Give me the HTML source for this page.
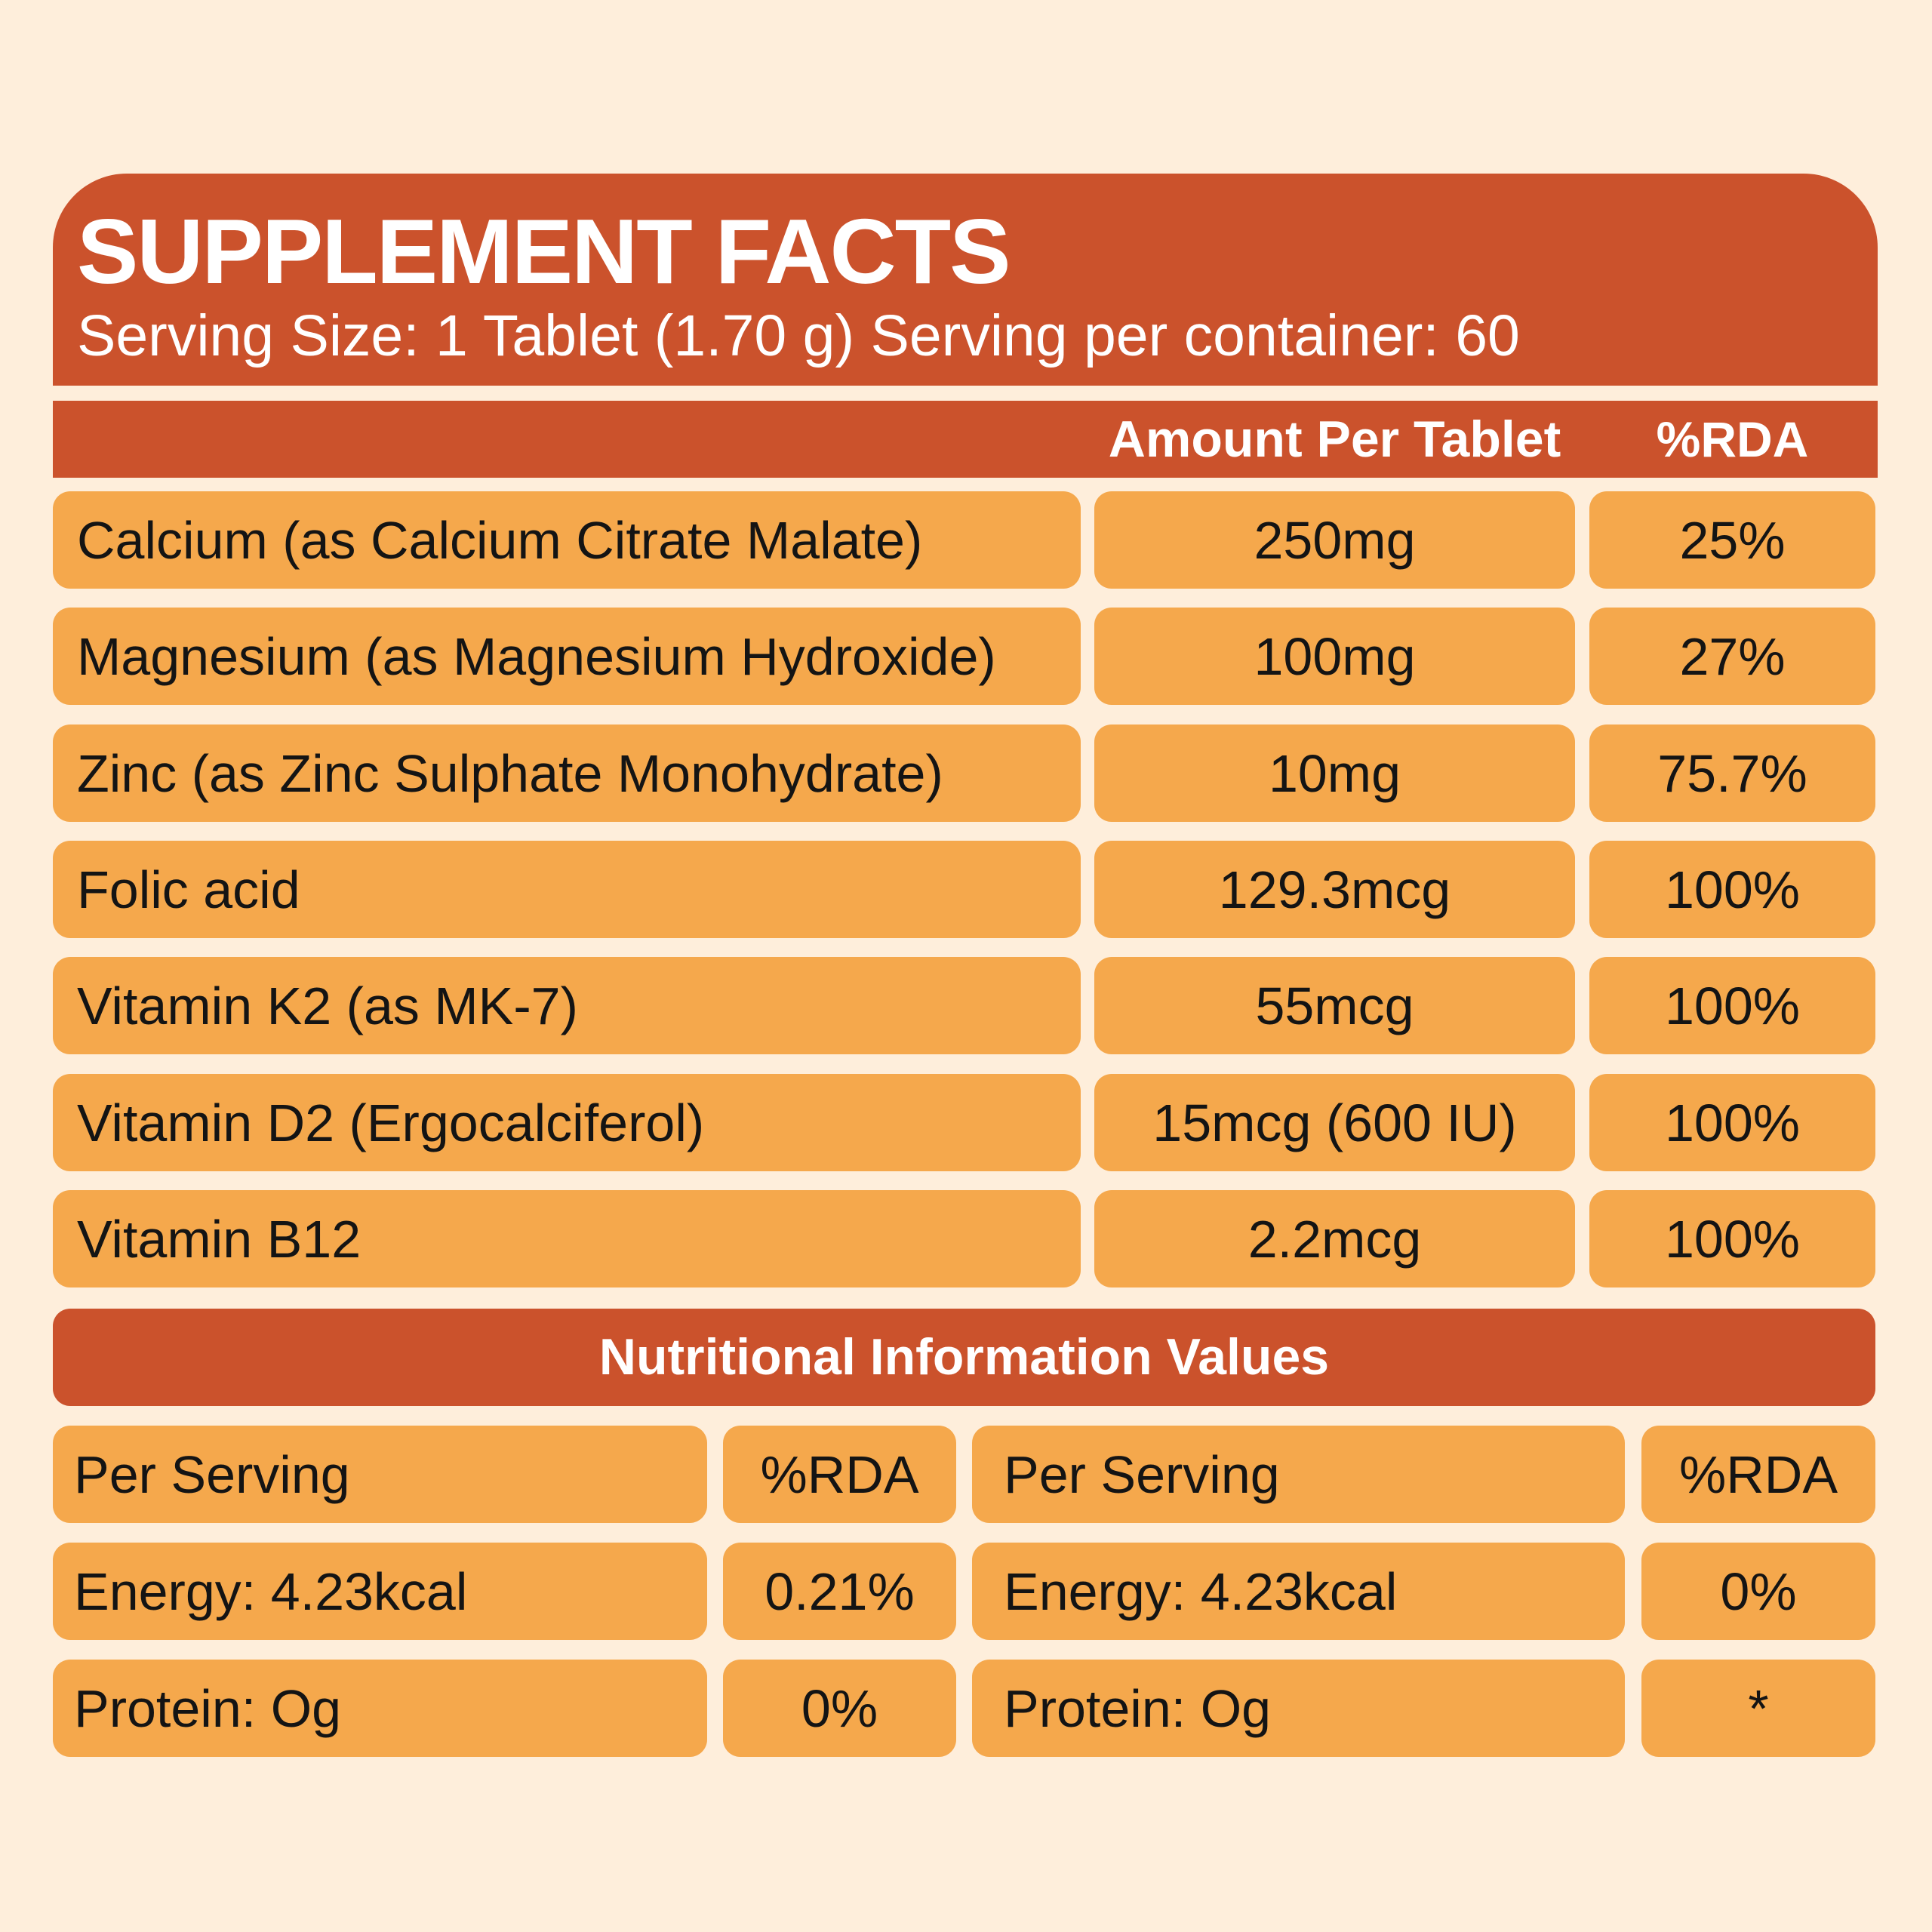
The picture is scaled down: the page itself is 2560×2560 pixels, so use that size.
<!DOCTYPE html>
<html><head><meta charset="utf-8"><style>
html,body{margin:0;padding:0}
body{width:2560px;height:2560px;background:#FEEEDB;position:relative;overflow:hidden;font-family:"Liberation Sans",sans-serif;}
.a{position:absolute;box-sizing:border-box}
.d{background:#CB522C;color:#fff}
.l{background:#F5A84C;color:#141414;border-radius:23px;font-size:70px;display:flex;align-items:center}
.c{justify-content:center}
.p{padding-left:32px}
</style></head><body>
<div class="a d" style="left:70px;top:230px;width:2418px;height:281px;border-radius:98px 98px 0 0"></div>
<div class="a" style="left:102px;top:268px;color:#fff;font-weight:bold;font-size:122px;line-height:130px;letter-spacing:-2px">SUPPLEMENT FACTS</div>
<div class="a" style="left:102px;top:400px;color:#fff;font-size:77px;line-height:90px">Serving Size: 1 Tablet (1.70 g) Serving per container: 60</div>
<div class="a d" style="left:70px;top:531px;width:2418px;height:102px"></div>
<div class="a" style="left:1450px;top:531px;width:637px;height:102px;line-height:102px;text-align:center;color:#fff;font-weight:bold;font-size:68px">Amount Per Tablet</div>
<div class="a" style="left:2106px;top:531px;width:379px;height:102px;line-height:102px;text-align:center;color:#fff;font-weight:bold;font-size:66px">%RDA</div>

<div class="a l p" style="left:70px;top:651px;width:1362px;height:129px">Calcium (as Calcium Citrate Malate)</div>
<div class="a l c" style="left:1450px;top:651px;width:637px;height:129px">250mg</div>
<div class="a l c" style="left:2106px;top:651px;width:379px;height:129px">25%</div>

<div class="a l p" style="left:70px;top:805px;width:1362px;height:129px">Magnesium (as Magnesium Hydroxide)</div>
<div class="a l c" style="left:1450px;top:805px;width:637px;height:129px">100mg</div>
<div class="a l c" style="left:2106px;top:805px;width:379px;height:129px">27%</div>

<div class="a l p" style="left:70px;top:960px;width:1362px;height:129px">Zinc (as Zinc Sulphate Monohydrate)</div>
<div class="a l c" style="left:1450px;top:960px;width:637px;height:129px">10mg</div>
<div class="a l c" style="left:2106px;top:960px;width:379px;height:129px">75.7%</div>

<div class="a l p" style="left:70px;top:1114px;width:1362px;height:129px">Folic acid</div>
<div class="a l c" style="left:1450px;top:1114px;width:637px;height:129px">129.3mcg</div>
<div class="a l c" style="left:2106px;top:1114px;width:379px;height:129px">100%</div>

<div class="a l p" style="left:70px;top:1268px;width:1362px;height:129px">Vitamin K2 (as MK-7)</div>
<div class="a l c" style="left:1450px;top:1268px;width:637px;height:129px">55mcg</div>
<div class="a l c" style="left:2106px;top:1268px;width:379px;height:129px">100%</div>

<div class="a l p" style="left:70px;top:1423px;width:1362px;height:129px">Vitamin D2 (Ergocalciferol)</div>
<div class="a l c" style="left:1450px;top:1423px;width:637px;height:129px">15mcg (600 IU)</div>
<div class="a l c" style="left:2106px;top:1423px;width:379px;height:129px">100%</div>

<div class="a l p" style="left:70px;top:1577px;width:1362px;height:129px">Vitamin B12</div>
<div class="a l c" style="left:1450px;top:1577px;width:637px;height:129px">2.2mcg</div>
<div class="a l c" style="left:2106px;top:1577px;width:379px;height:129px">100%</div>

<div class="a d" style="left:70px;top:1734px;width:2415px;height:129px;border-radius:23px;line-height:129px;text-align:center;font-weight:bold;font-size:68px">Nutritional Information Values</div>

<div class="a l p" style="left:70px;top:1889px;width:867px;height:129px;padding-left:28px">Per Serving</div>
<div class="a l c" style="left:958px;top:1889px;width:309px;height:129px">%RDA</div>
<div class="a l p" style="left:1288px;top:1889px;width:865px;height:129px;padding-left:42px">Per Serving</div>
<div class="a l c" style="left:2175px;top:1889px;width:310px;height:129px">%RDA</div>

<div class="a l p" style="left:70px;top:2044px;width:867px;height:129px;padding-left:28px">Energy: 4.23kcal</div>
<div class="a l c" style="left:958px;top:2044px;width:309px;height:129px">0.21%</div>
<div class="a l p" style="left:1288px;top:2044px;width:865px;height:129px;padding-left:42px">Energy: 4.23kcal</div>
<div class="a l c" style="left:2175px;top:2044px;width:310px;height:129px">0%</div>

<div class="a l p" style="left:70px;top:2199px;width:867px;height:129px;padding-left:28px">Protein: Og</div>
<div class="a l c" style="left:958px;top:2199px;width:309px;height:129px">0%</div>
<div class="a l p" style="left:1288px;top:2199px;width:865px;height:129px;padding-left:42px">Protein: Og</div>
<div class="a l c" style="left:2175px;top:2199px;width:310px;height:129px">*</div>
</body></html>
